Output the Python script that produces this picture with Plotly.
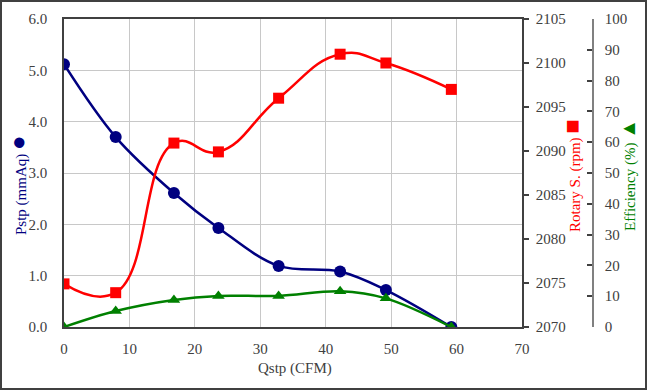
import plotly.graph_objects as go

qstp = [0, 7.9, 16.8, 23.6, 32.8, 42.2, 49.2, 59.2]
pstp = [5.12, 3.70, 2.61, 1.93, 1.19, 1.08, 0.72, 0.0]
rotary = [2074.9, 2073.9, 2090.9, 2089.9, 2096.0, 2101.0, 2100.0, 2097.0]
efficiency = [0, 5.2, 8.8, 10.1, 10.1, 11.6, 9.3, 0]

x_ticks = [0, 10, 20, 30, 40, 50, 60, 70]
p_ticks = [0, 1, 2, 3, 4, 5, 6]
r_ticks = [2070, 2075, 2080, 2085, 2090, 2095, 2100, 2105]
e_ticks = [0, 10, 20, 30, 40, 50, 60, 70, 80, 90, 100]

W, H = 647, 390
L, R, T, B = 64, 20, 19, 63
pw = W - L - R
ph = H - T - B
plot_right = 522
eff_axis_px = 593

def px(xp):
    return (xp - L) / pw

def py(yp):
    return (H - B - yp) / ph

FONT = "Liberation Serif"
TICKC = "#404040"
GRID = "#c8c8c8"
NAVY = "#000080"
RED = "#ff0000"
GREEN = "#008000"
TS = 15

fig = go.Figure()
fig.add_trace(go.Scatter(x=qstp, y=pstp, mode="lines+markers", yaxis="y",
                         line=dict(color=NAVY, width=2.5, shape="spline", smoothing=1),
                         marker=dict(symbol="circle", size=12, color=NAVY)))
fig.add_trace(go.Scatter(x=qstp, y=rotary, mode="lines+markers", yaxis="y2",
                         line=dict(color=RED, width=2.5, shape="spline", smoothing=1.3),
                         marker=dict(symbol="square", size=11, color=RED)))
fig.add_trace(go.Scatter(x=qstp, y=efficiency, mode="lines+markers", yaxis="y3",
                         line=dict(color=GREEN, width=2.5, shape="spline", smoothing=1),
                         marker=dict(symbol="triangle-up", size=11, color=GREEN)))

dom_right = px(plot_right)

fig.update_layout(
    template="none",
    width=W, height=H,
    margin=dict(l=L, r=R, t=T, b=B, autoexpand=False),
    paper_bgcolor="white", plot_bgcolor="white",
    showlegend=False,
    font=dict(family=FONT, size=TS, color=TICKC),
    xaxis=dict(domain=[0, dom_right], range=[0, 70], tickvals=x_ticks, automargin=False,
               showgrid=True, gridcolor=GRID, gridwidth=1,
               showline=True, linecolor="#404040", linewidth=1.5, mirror=True,
               ticks="", zeroline=False, ticklabelstandoff=7,
               tickfont=dict(family=FONT, size=TS, color=TICKC)),
    yaxis=dict(domain=[0, 1], range=[0, 6], tickvals=p_ticks, tickformat=".1f", automargin=False,
               showgrid=True, gridcolor=GRID, gridwidth=1,
               showline=True, linecolor="#404040", linewidth=1.5, mirror=True,
               ticks="", zeroline=False, ticklabelstandoff=12,
               tickfont=dict(family=FONT, size=TS, color=TICKC)),
    yaxis2=dict(range=[2070, 2105], tickvals=r_ticks, overlaying="y", side="right",
                anchor="x", showgrid=False, zeroline=False, automargin=False,
                showline=True, linecolor="#404040", linewidth=1.5,
                ticks="outside", ticklen=5, tickcolor="#404040", tickwidth=1.5,
                ticklabelstandoff=4,
                tickfont=dict(family=FONT, size=TS, color=TICKC)),
    yaxis3=dict(range=[0, 100], tickvals=e_ticks, overlaying="y", side="right",
                anchor="free", position=px(eff_axis_px), showgrid=False, zeroline=False,
                automargin=False,
                showline=True, linecolor="#808080", linewidth=1.5,
                ticks="inside", ticklen=5, tickcolor="#404040", tickwidth=1.5,
                ticklabelstandoff=8,
                tickfont=dict(family=FONT, size=TS, color=TICKC)),
)

fig.add_annotation(x=px(295), y=py(368), xref="paper", yref="paper",
                   text="Qstp (CFM)", showarrow=False,
                   font=dict(family=FONT, size=TS, color=TICKC),
                   xanchor="center", yanchor="middle")
fig.add_annotation(x=px(18), y=py(185), xref="paper", yref="paper",
                   text="Pstp (mmAq) <span style='font-size:24px'>●</span>", showarrow=False,
                   textangle=-90, font=dict(family=FONT, size=TS, color=NAVY),
                   xanchor="center", yanchor="middle")
fig.add_annotation(x=px(572), y=py(176), xref="paper", yref="paper",
                   text="Rotary S. (rpm) <span style='font-size:24px'>■</span>", showarrow=False,
                   textangle=-90, font=dict(family=FONT, size=TS, color=RED),
                   xanchor="center", yanchor="middle")
fig.add_annotation(x=px(628), y=py(175), xref="paper", yref="paper",
                   text="Efficiency (%) <span style='font-size:20px'>▲</span>", showarrow=False,
                   textangle=-90, font=dict(family=FONT, size=TS, color=GREEN),
                   xanchor="center", yanchor="middle")

fig.add_shape(type="rect", xref="paper", yref="paper",
              x0=px(1), x1=px(646), y0=py(389), y1=py(1),
              line=dict(color="#404040", width=2), fillcolor="rgba(0,0,0,0)")

fig.write_html("out.html", config={"displayModeBar": False},
               post_script="document.body.style.margin='0';document.body.style.overflow='hidden';")
